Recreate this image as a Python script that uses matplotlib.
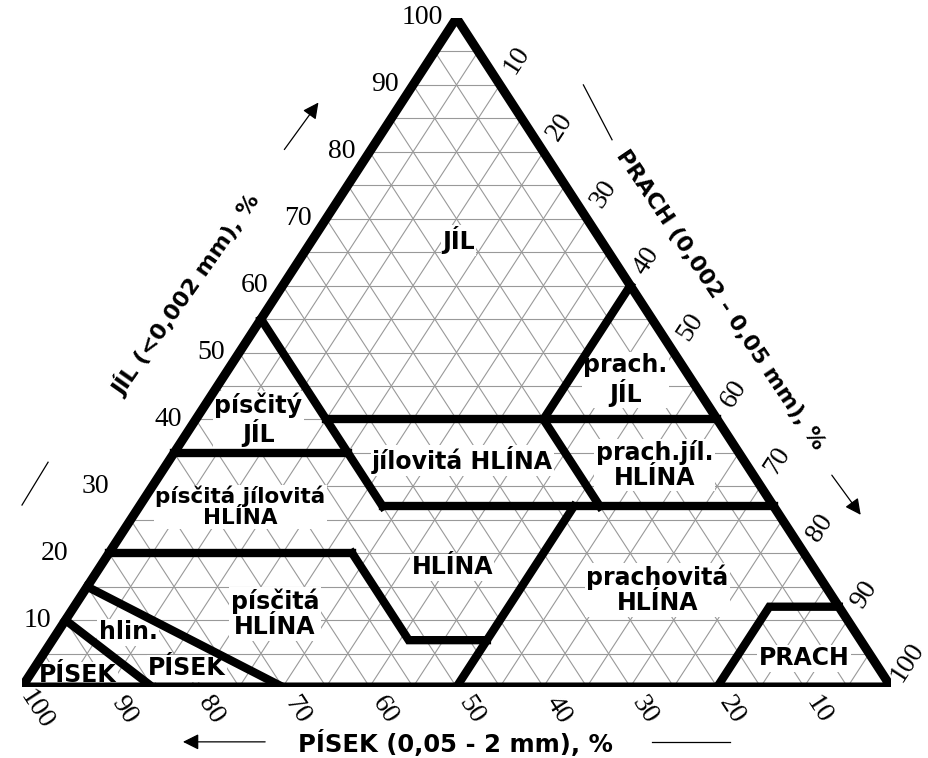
import numpy as np
import matplotlib
matplotlib.use('Agg')
import matplotlib.pyplot as plt
from matplotlib.patches import Polygon

# tick values on the three sides
clay_ticks = [10, 20, 30, 40, 50, 60, 70, 80, 90, 100]
silt_ticks = [10, 20, 30, 40, 50, 60, 70, 80, 90, 100]
sand_ticks = [100, 90, 80, 70, 60, 50, 40, 30, 20, 10]

# class boundaries as (clay %, silt %) points
bnd_pisek = [(10, 0), (0, 15)]
bnd_hlin_pisek = [(15, 0), (0, 30)]
bnd_clay20 = [(20, 0), (20, 28)]
bnd_sand45 = [(55, 0), (27, 28)]
bnd_clay35 = [(35, 0), (35, 20)]
bnd_clay40 = [(40, 15), (40, 60)]
bnd_clay27 = [(27, 28), (27, 73)]
bnd_loam_low = [(20, 28), (7, 41), (7, 50)]
bnd_silt50 = [(0, 50), (27, 50)]
bnd_sand20 = [(27, 53), (40, 40), (60, 40)]
bnd_prach = [(0, 80), (12, 80), (12, 88)]
boundaries = [bnd_pisek, bnd_hlin_pisek, bnd_clay20, bnd_sand45, bnd_clay35,
              bnd_clay40, bnd_clay27, bnd_loam_low, bnd_silt50, bnd_sand20, bnd_prach]

region_names = ['JÍL', 'prach.\nJÍL', 'písčitý\nJÍL', 'jílovitá HLÍNA',
                'prach.jíl.\nHLÍNA', 'písčitá jílovitá\nHLÍNA', 'HLÍNA',
                'prachovitá\nHLÍNA', 'písčitá\nHLÍNA', 'hlin.', 'PÍSEK',
                'PÍSEK', 'PRACH']
# label centres (x along base %, y = clay %)
region_pos = [(50.2, 66.8), (69.4, 45.9), (27.2, 39.9), (50.7, 33.9),
              (72.8, 33.2), (25.1, 26.9), (49.5, 17.9), (73.1, 14.5),
              (29.1, 10.9), (12.2, 8.2), (19.0, 2.8), (6.4, 1.8), (90.0, 4.3)]
# the long label in the narrow band is set a little smaller
label_size = {'písčitá jílovitá\nHLÍNA': 15.5}

# clay tick labels 20 and 30 sit further out to leave room for the labels
clay_gap = {20: 41, 30: 43}


def to_xy(clay, silt):
    return silt + clay / 2.0, clay


W, H = 929, 758
fig = plt.figure(figsize=(W / 100, H / 100), dpi=100)
ax = fig.add_axes([22 / W, 71 / H, 869 / W, 669 / H])
ax.set_xlim(0, 100)
ax.set_ylim(0, 100)
ax.axis('off')

# fine grid every 5 %
gc = '#999999'
for v in np.arange(5, 100, 5):
    ax.plot([v / 2, 100 - v / 2], [v, v], color=gc, lw=0.8, zorder=1)
    p0, p1 = to_xy(0, v), to_xy(100 - v, v)
    ax.plot([p0[0], p1[0]], [p0[1], p1[1]], color=gc, lw=0.8, zorder=1)
    p0, p1 = to_xy(0, 100 - v), to_xy(100 - v, 0)
    ax.plot([p0[0], p1[0]], [p0[1], p1[1]], color=gc, lw=0.8, zorder=1)

# region labels (white boxes hide the grid but not the thick lines)
for name, (x, y) in zip(region_names, region_pos):
    ax.text(x, y, name, ha='center', va='center', multialignment='center',
            fontfamily='DejaVu Sans', fontweight='bold',
            fontsize=label_size.get(name, 17), linespacing=1.05, zorder=2,
            bbox=dict(facecolor='white', edgecolor='none', pad=1))

# class boundaries
for line in boundaries:
    pts = np.array([to_xy(c, s) for c, s in line])
    ax.plot(pts[:, 0], pts[:, 1], color='black', lw=6,
            solid_capstyle='projecting', solid_joinstyle='miter', zorder=3)

# outer triangle
tri = Polygon([(0, 0), (100, 0), (50, 100)], closed=True, fill=False,
              edgecolor='black', lw=6.5, joinstyle='miter', zorder=4)
ax.add_patch(tri)

# direction of the left edge in pixels
fig.canvas.draw()
d0 = ax.transData.transform((0, 0))
d1 = ax.transData.transform((50, 100))
ang = np.degrees(np.arctan2(d1[1] - d0[1], d1[0] - d0[0]))
ca, sa = np.cos(np.radians(ang)), np.sin(np.radians(ang))

tick_font = dict(fontfamily='Liberation Serif', fontsize=20, annotation_clip=False)
for v in clay_ticks:
    ax.annotate(str(v), xy=to_xy(v, 0), xytext=(-clay_gap.get(v, 14), 0),
                textcoords='offset pixels', ha='right', va='center', **tick_font)
for v in silt_ticks:
    ax.annotate(str(v), xy=to_xy(100 - v, v), xytext=(30 * ca, 30 * sa),
                textcoords='offset pixels', ha='center', va='center',
                rotation=ang, rotation_mode='anchor', **tick_font)
for v in sand_ticks:
    ax.annotate(str(v), xy=to_xy(0, 100 - v), xytext=(27 * ca, -27 * sa),
                textcoords='offset pixels', ha='center', va='center',
                rotation=-ang, rotation_mode='anchor', **tick_font)

# axis titles
title_font = dict(fontfamily='DejaVu Sans', fontweight='bold', ha='center',
                  va='center', rotation_mode='anchor', clip_on=False)
ax.text(18.8, 58.6, 'JÍL (<0,002 mm), %', fontsize=16, rotation=55, **title_font)
ax.text(80.3, 57.8, 'PRACH (0,002 - 0,05 mm), %', fontsize=16, rotation=-56, **title_font)
ax.text(49.9, -8.4, 'PÍSEK (0,05 - 2 mm), %', fontsize=17.5, rotation=0, **title_font)

# direction arrows and plain strokes
arr = dict(arrowstyle='-|>', lw=0.9, color='black', mutation_scale=24)
ax.annotate('', xy=(34.3, 87.7), xytext=(30.0, 80.0), arrowprops=arr, annotation_clip=False)
ax.annotate('', xy=(96.7, 25.4), xytext=(93.0, 32.0), arrowprops=arr, annotation_clip=False)
ax.annotate('', xy=(18.2, -8.2), xytext=(28.3, -8.2), arrowprops=arr, annotation_clip=False)
ax.plot([0.0, 3.0], [27.2, 33.6], color='black', lw=0.9, clip_on=False)
ax.plot([64.6, 67.9], [90.0, 81.8], color='black', lw=0.9, clip_on=False)
ax.plot([72.5, 81.5], [-8.2, -8.2], color='black', lw=0.9, clip_on=False)

fig.savefig('out.png', dpi=100)
